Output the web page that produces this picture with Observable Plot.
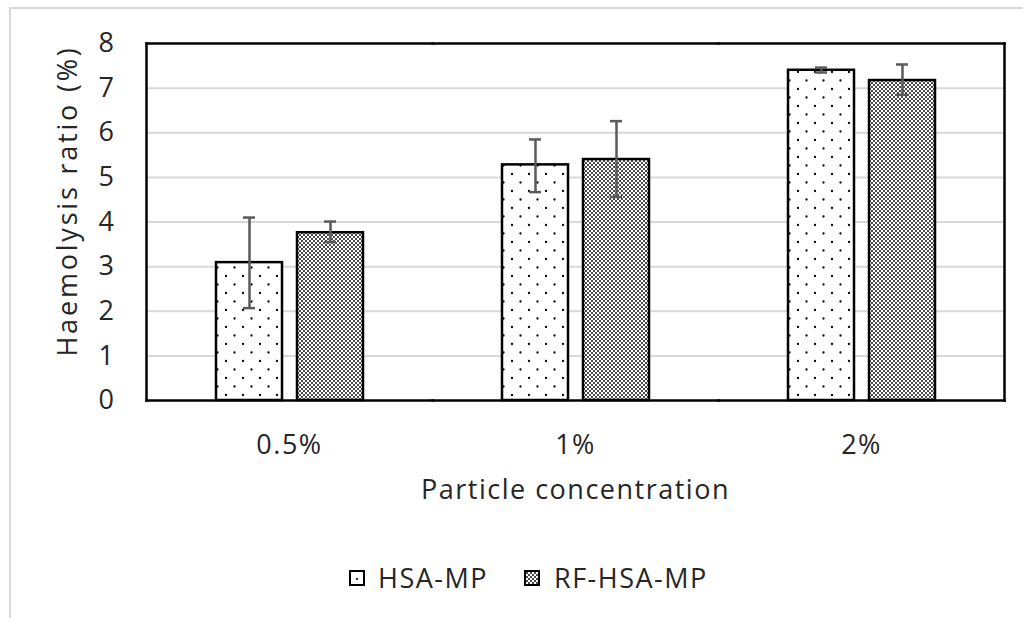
<!DOCTYPE html>
<html><head><meta charset="utf-8">
<script src="https://cdn.jsdelivr.net/npm/d3@7"></script>
<script src="https://cdn.jsdelivr.net/npm/@observablehq/plot@0.6"></script>
<style>
body{margin:0;background:#fff;width:1023px;height:618px;overflow:hidden;position:relative;font-family:"Open Sans",sans-serif;color:#262626}
#border{position:absolute;left:9px;top:7px;width:1030px;height:630px;border-top:2px solid #d9d9d9;border-left:2px solid #d9d9d9}
#chart{position:absolute;left:0;top:0}
#chart svg text{letter-spacing:1.5px}
#chart svg .ylabel text{letter-spacing:2.8px}
#legend{position:absolute;top:560px;left:349px;display:flex;align-items:center;font-size:27px;line-height:36px;letter-spacing:1.5px}
#legend svg{display:block}
</style></head>
<body>
<div id="border"></div>
<svg width="0" height="0" style="position:absolute">
  <defs>
    <pattern id="pat-hsa" patternUnits="userSpaceOnUse" width="17" height="17">
      <rect width="17" height="17" fill="#fff"/>
      <circle cx="4" cy="4" r="1.15" fill="#000"/>
      <circle cx="12.5" cy="12.5" r="1.15" fill="#000"/>
    </pattern>
    <pattern id="pat-rf" patternUnits="userSpaceOnUse" width="4" height="4">
      <rect width="4" height="4" fill="#fff"/>
      <circle cx="1" cy="1" r="0.95" fill="#000"/>
      <circle cx="3" cy="3" r="0.95" fill="#000"/>
    </pattern>
  </defs>
</svg>
<div id="chart"></div>
<div id="legend">
  <svg width="16" height="16"><rect x="1" y="1" width="14" height="14" fill="#fff" stroke="#000" stroke-width="2"/><circle cx="8" cy="9" r="1.1" fill="#000"/></svg>
  <span style="margin-left:13px">HSA-MP</span>
  <svg width="16" height="16" style="margin-left:36px"><rect x="1" y="1" width="14" height="14" fill="url(#pat-rf)" stroke="#000" stroke-width="2"/></svg>
  <span style="margin-left:14px">RF-HSA-MP</span>
</div>
<script>
const concentrations = ["0.5%", "1%", "2%"];
const seriesNames = ["HSA-MP", "RF-HSA-MP"];
const hsaMean = [3.09, 5.28, 7.40];
const hsaLow  = [2.07, 4.67, 7.35];
const hsaHigh = [4.10, 5.85, 7.46];
const rfMean  = [3.76, 5.40, 7.17];
const rfLow   = [3.55, 4.56, 6.85];
const rfHigh  = [4.01, 6.26, 7.53];
const yTicks = [0, 1, 2, 3, 4, 5, 6, 7, 8];
const gridTicks = [1, 2, 3, 4, 5, 6, 7];

const rows = [];
concentrations.forEach((c, i) => {
  rows.push({conc: c, series: seriesNames[0], mean: hsaMean[i], low: hsaLow[i], high: hsaHigh[i]});
  rows.push({conc: c, series: seriesNames[1], mean: rfMean[i], low: rfLow[i], high: rfHigh[i]});
});

const errColor = "#5a5a5a";
const chart = Plot.plot({
  width: 1023,
  height: 530,
  marginTop: 43,
  marginLeft: 145,
  marginRight: 18,
  marginBottom: 130,
  style: {fontFamily: "'Open Sans', sans-serif", fontSize: "27px", color: "#262626", background: "transparent"},
  fx: {domain: concentrations, padding: 0},
  x: {domain: seriesNames, paddingInner: 0.19, paddingOuter: 0.855, axis: null},
  y: {domain: [0, 8]},
  color: {domain: seriesNames, range: ["url(#pat-hsa)", "url(#pat-rf)"]},
  marks: [
    Plot.ruleY(gridTicks, {stroke: "#d9d9d9", strokeWidth: 2}),
    Plot.barY(rows, {fx: "conc", x: "series", y: "mean", fill: "series", stroke: "#000", strokeWidth: 2.5}),
    Plot.ruleX(rows, {fx: "conc", x: "series", y1: "low", y2: "high", stroke: errColor, strokeWidth: 2.5}),
    Plot.tickY(rows, {fx: "conc", x: "series", y: "low", insetLeft: 27, insetRight: 27, stroke: errColor, strokeWidth: 2.5}),
    Plot.tickY(rows, {fx: "conc", x: "series", y: "high", insetLeft: 27, insetRight: 27, stroke: errColor, strokeWidth: 2.5}),
    Plot.frame({anchor: "top", stroke: "#000", strokeWidth: 2.5}),
    Plot.frame({anchor: "bottom", stroke: "#000", strokeWidth: 2.5}),
    Plot.frame({anchor: "left", facetAnchor: "left", stroke: "#000", strokeWidth: 2.5}),
    Plot.frame({anchor: "right", facetAnchor: "right", stroke: "#000", strokeWidth: 2.5}),
    Plot.axisY({ticks: yTicks, tickSize: 0, tickPadding: 31, label: null}),
    Plot.axisFx({anchor: "bottom", tickSize: 0, tickPadding: 34, label: "Particle concentration", labelAnchor: "center", labelOffset: 98}),
    Plot.text(["Haemolysis ratio (%)"], {frameAnchor: "left", textAnchor: "middle", rotate: -90, dx: -78, dy: -21, facetAnchor: "left", fontSize: 27, className: "ylabel"})
  ]
});
document.getElementById("chart").appendChild(chart);
</script>
</body></html>
